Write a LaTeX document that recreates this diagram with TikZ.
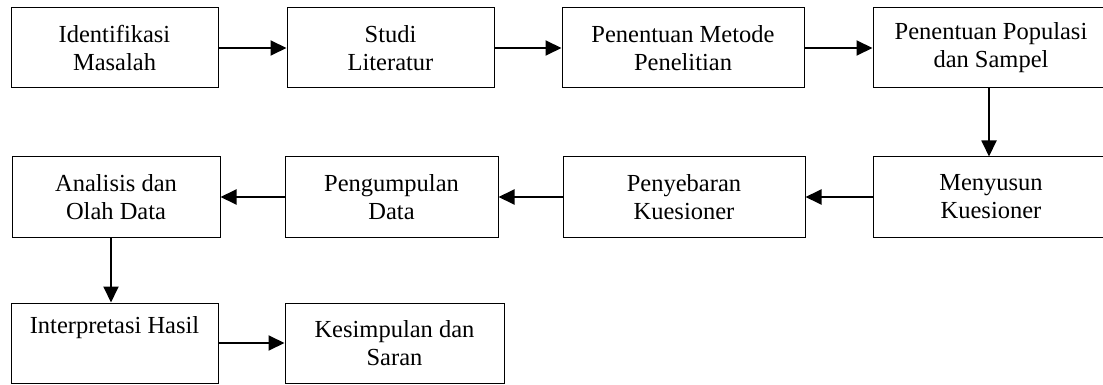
\documentclass[tikz,border=0pt]{standalone}
\usepackage{fontspec}
\setmainfont{Liberation Serif}
\usetikzlibrary{positioning, arrows.meta}

\begin{document}
\begin{tikzpicture}[x=1pt, y=-1pt, >={Triangle[length=16pt, width=15pt]},
  stepbox/.style={draw, line width=1pt, align=center, minimum height=80pt, inner sep=0pt, font=\fontsize{24.5}{28}\selectfont},
  flow/.style={->, line width=1.9pt}]

\useasboundingbox (0,0) rectangle (1103,385);
\clip (0,0) rectangle (1103,385);

% first row
\node[stepbox, minimum width=207pt] (idm) at (114.5,48) {Identifikasi\\Masalah};
\node[stepbox, minimum width=207pt, right=68pt of idm] (lit) {Studi\\Literatur};
\node[stepbox, minimum width=242pt, right=67pt of lit] (met) {Penentuan Metode\\Penelitian};
\node[stepbox, minimum width=236pt, right=68pt of met] (pop) {Penentuan Populasi\\dan Sampel};

% second row
\node[stepbox, minimum width=236pt, below=68pt of pop] (kue) {Menyusun\\Kuesioner};
\node[stepbox, minimum width=242pt, left=67pt of kue] (sebar) {Penyebaran\\Kuesioner};
\node[stepbox, minimum width=213pt, left=64pt of sebar] (kumpul) {Pengumpulan\\Data};
\node[stepbox, minimum width=208pt, left=64pt of kumpul] (ana) {Analisis dan\\Olah Data};

% third row
\node[stepbox, minimum width=207pt] (hasil) at (114.5,343) {Interpretasi Hasil\\\strut};
\node[stepbox, minimum width=219pt, right=66pt of hasil] (simp) {Kesimpulan dan\\Saran};

\draw[flow] (idm) -- (lit);
\draw[flow] (lit) -- (met);
\draw[flow] (met) -- (pop);
\draw[flow] ([xshift=-2pt]pop.south) -- ([xshift=-2pt]pop.south |- kue.north);
\draw[flow] (kue) -- (sebar);
\draw[flow] (sebar) -- (kumpul);
\draw[flow] (kumpul) -- (ana);
\draw[flow] ([xshift=-5pt]ana.south) coordinate (aux) -- (aux |- hasil.north);
\draw[flow] (hasil) -- (simp);

\end{tikzpicture}
\end{document}
